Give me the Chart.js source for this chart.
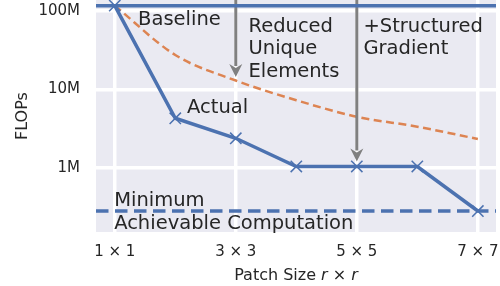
<!DOCTYPE html>
<html>
<head>
<meta charset="utf-8">
<script src="https://cdn.jsdelivr.net/npm/chart.js@4"></script>
<style>
  html, body { margin: 0; padding: 0; background: #fff; overflow: hidden; }
  #wrap { width: 540px; height: 286px; }
</style>
</head>
<body>
<div id="wrap"><canvas id="chart" width="540" height="286"></canvas></div>
<script>
// values
const patchSizes = [1, 2, 3, 4, 5, 6, 7];
const actualFlops = [1.17e8, 4.3e6, 2.39e6, 1.045e6, 1.045e6, 1.045e6, 2.83e5];
const reducedFlops = [1.17e8, 2.75e7, 1.3e7, 7.3e6, 4.5e6, 3.36e6, 2.34e6];
const baselineFlops = 1.17e8;
const minimumFlops = 2.83e5;
const xTickValues = [1, 3, 5, 7];
const xTickLabels = ['1 \u00d7 1', '3 \u00d7 3', '5 \u00d7 5', '7 \u00d7 7'];
const yTickValues = [1e6, 1e7, 1e8];
const yTickLabels = ['1M', '10M', '100M'];
const arrowX = [3, 5];
const arrowTo = [1.44e7, 1.21e6];

const X_MIN = 0.69, X_MAX = 7.3;
const Y_MIN = 1.53e5, Y_MAX = 1.38e8;

const BLUE = '#4C72B0';
const ORANGE = '#DD8452';
const TEXT = '#262626';
const FONT = "'DejaVu Sans', sans-serif";

// text annotations, anchored in data coordinates (left, baseline)
const notes = [
  { x: 1.385, y: 6.64e7, lines: ['Baseline'] },
  { x: 3.21, y: 5.45e7, lines: ['Reduced', 'Unique', 'Elements'] },
  { x: 5.11, y: 5.45e7, lines: ['+Structured', 'Gradient'] },
  { x: 2.195, y: 4.98e6, lines: ['Actual'] },
  { x: 0.99, y: 3.25e5, lines: ['Minimum', 'Achievable Computation'] },
];

const pts = (ys) => ys.map((y, i) => ({ x: patchSizes[i], y }));

const bgPlugin = {
  id: 'bg',
  beforeDraw(chart) {
    const { ctx, chartArea: a } = chart;
    ctx.save();
    ctx.fillStyle = '#EAEAF2';
    ctx.fillRect(a.left, a.top, a.right - a.left, a.bottom - a.top);
    ctx.restore();
  },
  // arrows go on top of the orange curve, under the blue lines
  afterDatasetDraw(chart, args) {
    if (args.index !== 3) return;
    const { ctx, chartArea: a, scales } = chart;
    ctx.save();
    ctx.fillStyle = '#808080';
    ctx.strokeStyle = '#808080';
    ctx.lineWidth = 3;
    arrowX.forEach((xv, i) => {
      const x = scales.x.getPixelForValue(xv);
      const tip = scales.y.getPixelForValue(arrowTo[i]);
      const headLen = 13, headW = 6.5;
      ctx.beginPath();
      ctx.moveTo(x, a.top);
      ctx.lineTo(x, tip - headLen + 2);
      ctx.stroke();
      ctx.beginPath();
      ctx.moveTo(x, tip);
      ctx.lineTo(x - headW, tip - headLen);
      ctx.lineTo(x, tip - headLen + 4);
      ctx.lineTo(x + headW, tip - headLen);
      ctx.closePath();
      ctx.fill();
    });
    ctx.restore();
  },
  afterDraw(chart) {
    const { ctx, chartArea: a, scales } = chart;
    ctx.save();
    ctx.fillStyle = TEXT;
    ctx.textBaseline = 'alphabetic';
    ctx.textAlign = 'left';
    ctx.font = '19.5px ' + FONT;
    notes.forEach(n => {
      const x = scales.x.getPixelForValue(n.x);
      const y = scales.y.getPixelForValue(n.y);
      n.lines.forEach((t, k) => ctx.fillText(t, x, y + k * 22.5));
    });

    // x axis title with italic r
    const parts = [['Patch Size ', ''], ['r', 'italic '], [' \u00d7 ', ''], ['r', 'italic ']];
    let total = 0;
    parts.forEach(p => { ctx.font = p[1] + '16px ' + FONT; total += ctx.measureText(p[0]).width; });
    let cx = (a.left + a.right) / 2 - total / 2;
    parts.forEach(p => {
      ctx.font = p[1] + '16px ' + FONT;
      ctx.fillText(p[0], cx, 280);
      cx += ctx.measureText(p[0]).width;
    });
    ctx.restore();
  }
};

new Chart(document.getElementById('chart'), {
  type: 'line',
  data: {
    datasets: [
      {
        label: 'Actual',
        data: pts(actualFlops),
        borderColor: BLUE,
        borderWidth: 3.5,
        pointStyle: 'crossRot',
        pointRadius: 8,
        pointBorderWidth: 1.5,
        pointBorderColor: BLUE,
        pointBackgroundColor: BLUE,
      },
      {
        label: 'Baseline',
        data: [{ x: X_MIN, y: baselineFlops }, { x: X_MAX, y: baselineFlops }],
        borderColor: BLUE,
        borderWidth: 3.5,
        pointRadius: 0,
      },
      {
        label: 'Minimum',
        data: [{ x: X_MIN, y: minimumFlops }, { x: X_MAX, y: minimumFlops }],
        borderColor: BLUE,
        borderWidth: 3.5,
        borderDash: [12.5, 6.5],
        pointRadius: 0,
      },
      {
        label: 'Reduced',
        data: pts(reducedFlops),
        borderColor: ORANGE,
        borderWidth: 2.5,
        borderDash: [8, 4.5],
        cubicInterpolationMode: 'monotone',
        pointRadius: 0,
      },
    ]
  },
  options: {
    responsive: false,
    animation: false,
    devicePixelRatio: 1,
    layout: { autoPadding: false, padding: { left: 0, right: 44, top: 0, bottom: 0 } },
    plugins: { legend: { display: false }, tooltip: { enabled: false } },
    scales: {
      x: {
        type: 'linear',
        min: X_MIN,
        max: X_MAX,
        afterBuildTicks: (s) => { s.ticks = xTickValues.map(v => ({ value: v })); },
        afterFit: (s) => { s.height = 54; s.paddingLeft = 0; s.paddingRight = 0; },
        ticks: {
          autoSkip: false,
          maxRotation: 0,
          padding: 11,
          color: TEXT,
          font: { family: FONT, size: 15 },
          callback: (v) => xTickLabels[xTickValues.indexOf(v)],
        },
        grid: { color: '#FFFFFF', lineWidth: 3.5, drawTicks: false },
        border: { display: false },
      },
      y: {
        type: 'logarithmic',
        min: Y_MIN,
        max: Y_MAX,
        afterBuildTicks: (s) => { s.ticks = yTickValues.map(v => ({ value: v })); },
        afterFit: (s) => { s.width = 96; s.paddingTop = 0; s.paddingBottom = 0; },
        ticks: {
          padding: 16,
          color: TEXT,
          font: { family: FONT, size: 15 },
          callback: (v) => yTickLabels[yTickValues.indexOf(v)],
        },
        grid: { color: '#FFFFFF', lineWidth: 3.5, drawTicks: false },
        border: { display: false },
        title: {
          display: true,
          text: 'FLOPs',
          color: TEXT,
          font: { family: FONT, size: 16 },
          padding: { top: 13, bottom: 0 },
        },
      },
    },
  },
  plugins: [bgPlugin],
});
</script>
</body>
</html>
